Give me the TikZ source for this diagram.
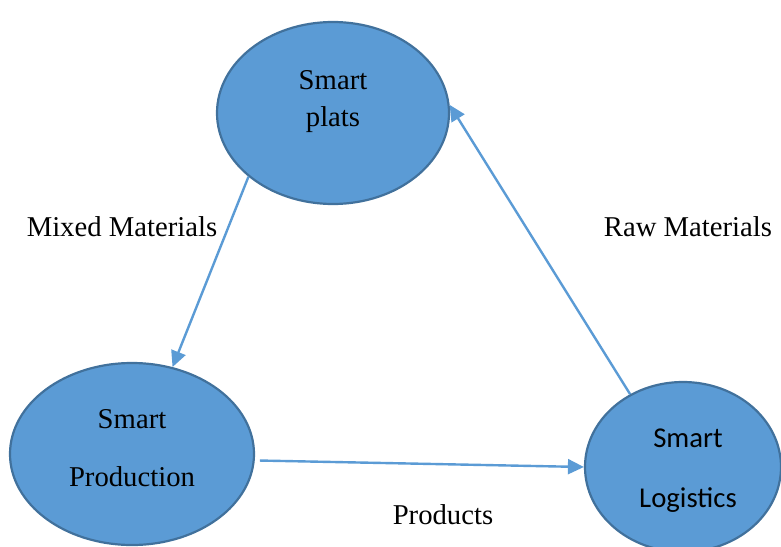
\documentclass[tikz,border=0pt]{standalone}
\usepackage{fontspec}
\setmainfont{Liberation Serif}
\newfontfamily\calibrifont{Carlito}
\usetikzlibrary{shapes.geometric,arrows.meta}
\definecolor{nodefill}{HTML}{5B9BD5}
\definecolor{nodeedge}{HTML}{41719C}
\definecolor{linkcol}{HTML}{5B9BD5}

\begin{document}
\begin{tikzpicture}[x=1pt,y=-1pt,
  bubble/.style={ellipse, draw=nodeedge, fill=nodefill, line width=2.2pt, inner sep=0pt},
  caption/.style={font=\fontsize{28.7}{34}\selectfont, inner sep=0pt, anchor=base},
  link/.style={draw=linkcol, line width=2.4pt, -{Triangle[length=16pt,width=15pt]}}]
\useasboundingbox (0,0) rectangle (781,546);

% the three units
\node[bubble, minimum width=232pt, minimum height=182pt] (plats) at (333,113) {};
\node[bubble, minimum width=244pt, minimum height=182pt] (prod) at (132,454) {};
\node[bubble, minimum width=196pt, minimum height=170pt] (logi) at (683,467) {};

% unit titles
\node[caption] (platsA) at (333,89) {Smart};
\node[caption] (platsB) at (333,126) {plats};
\node[caption] (prodA) at (132,428) {Smart};
\node[caption] (prodB) at (132,486) {Production};
\node[caption, font=\calibrifont\fontsize{28.7}{34}\selectfont] (logiA) at (688,447) {Smart};
\node[caption, font=\calibrifont\fontsize{28.7}{34}\selectfont] (logiB) at (688,507) {Logistics};

% material flows
\draw[link] (plats.217.7) -- (prod.65);
\draw[link, shorten <=5pt] (prod.-3) -- (logi.180);
\draw[link] (logi.126.4) -- (plats.4.4);

% flow labels
\node[caption] (mixed) at (122,236) {Mixed Materials};
\node[caption] (raw) at (688,236) {Raw Materials};
\node[caption] (products) at (443,524) {Products};
\end{tikzpicture}
\end{document}
